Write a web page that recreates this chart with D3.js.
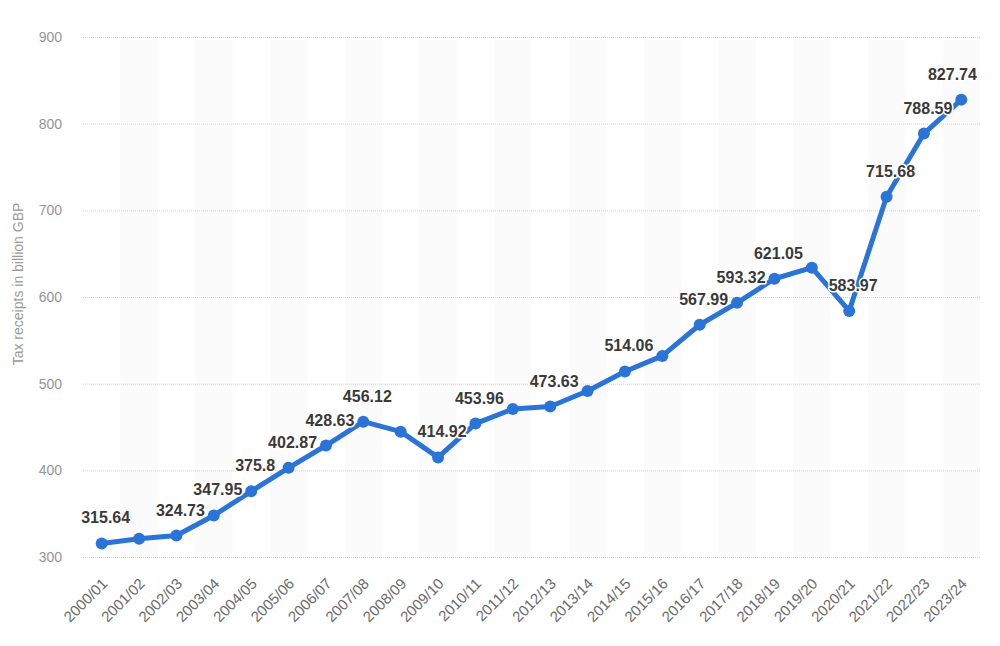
<!DOCTYPE html>
<html>
<head>
<meta charset="utf-8">
<script src="https://cdn.jsdelivr.net/npm/d3@7/dist/d3.min.js"></script>
<style>
  html, body { margin: 0; padding: 0; background: #fff; }
  svg { display: block; font-family: "Liberation Sans", Arial, sans-serif; }
</style>
</head>
<body>
<svg id="chart" width="1000" height="646"></svg>
<script>
const categories = ["2000/01","2001/02","2002/03","2003/04","2004/05","2005/06","2006/07","2007/08","2008/09","2009/10","2010/11","2011/12","2012/13","2013/14","2014/15","2015/16","2016/17","2017/18","2018/19","2019/20","2020/21","2021/22","2022/23","2023/24"];
const values = [315.64, 321.0, 324.73, 347.95, 375.8, 402.87, 428.63, 456.12, 444.6, 414.92, 453.96, 470.8, 473.63, 491.5, 514.06, 532.0, 567.99, 593.32, 621.05, 633.8, 583.97, 715.68, 788.59, 827.74];
const showLabel = [true,false,true,true,true,true,true,true,false,true,true,false,true,false,true,false,true,true,true,false,true,true,true,true];
const yTicks = [300, 400, 500, 600, 700, 800, 900];
const yTitle = "Tax receipts in billion GBP";

const svg = d3.select("#chart");
const margin = {left: 83, right: 20, top: 37, bottom: 89};
const W = 1000, H = 646;

const x = d3.scaleBand().domain(categories).range([margin.left, W - margin.right]).padding(0);
const y = d3.scaleLinear().domain([300, 900]).range([H - margin.bottom, margin.top]);

// alternating bands
svg.append("g").selectAll("rect")
  .data(categories.filter((d, i) => i % 2 === 1))
  .join("rect")
  .attr("x", d => x(d))
  .attr("y", y(900))
  .attr("width", x.bandwidth())
  .attr("height", y(300) - y(900))
  .attr("fill", "#fbfbfb");

// gridlines
const yAxis = d3.axisLeft(y).tickValues(yTicks).tickSize(-(W - margin.left - margin.right)).tickPadding(21);
const gy = svg.append("g").attr("transform", `translate(${margin.left},0)`).call(yAxis);
gy.select(".domain").remove();
gy.selectAll(".tick line").attr("stroke", "#d2d2d2").attr("stroke-dasharray", "1,1").attr("stroke-width", 1);
gy.selectAll(".tick text").attr("fill", "#959595").attr("font-size", 14);

// x axis labels
const xAxis = d3.axisBottom(x).tickSize(0).tickPadding(0);
const gx = svg.append("g").attr("transform", `translate(0,${y(300)})`).call(xAxis);
gx.select(".domain").remove();
gx.selectAll(".tick text")
  .attr("fill", "#6b6b6b")
  .attr("font-size", 15)
  .attr("text-anchor", "end")
  .attr("transform", "translate(3,24) rotate(-45)")
  .attr("dy", "0.35em")
  .attr("y", 0);

// y title
svg.append("text")
  .attr("transform", `translate(23,${(y(300)+y(900))/2 - 13}) rotate(-90)`)
  .attr("text-anchor", "middle")
  .attr("fill", "#9a9a9a")
  .attr("font-size", 14)
  .text(yTitle);

const cx = d => x(d) + x.bandwidth() / 2;
const data = categories.map((c, i) => ({c, v: values[i], show: showLabel[i]}));

svg.append("path")
  .datum(data)
  .attr("fill", "none")
  .attr("stroke", "#2a74d8")
  .attr("stroke-width", 5)
  .attr("stroke-linejoin", "round")
  .attr("d", d3.line().x(d => cx(d.c)).y(d => y(d.v)));

svg.append("g").selectAll("circle")
  .data(data)
  .join("circle")
  .attr("cx", d => cx(d.c))
  .attr("cy", d => y(d.v))
  .attr("r", 6)
  .attr("fill", "#2a74d8");

const plotRight = W - margin.right;
svg.append("g").selectAll("text")
  .data(data.filter(d => d.show))
  .join("text")
  .attr("x", d => cx(d.c) + 4)
  .attr("y", d => y(d.v) - 20)
  .attr("text-anchor", "middle")
  .attr("font-size", 16)
  .attr("font-weight", "bold")
  .attr("fill", "#3a3a3a")
  .attr("stroke", "#fff")
  .attr("stroke-width", 3)
  .attr("paint-order", "stroke")
  .attr("stroke-linejoin", "round")
  .text(d => String(d.v))
  .each(function() {
    const bb = this.getBBox();
    const over = bb.x + bb.width - (plotRight - 3);
    if (over > 0) d3.select(this).attr("x", +d3.select(this).attr("x") - over);
  });
</script>
</body>
</html>
